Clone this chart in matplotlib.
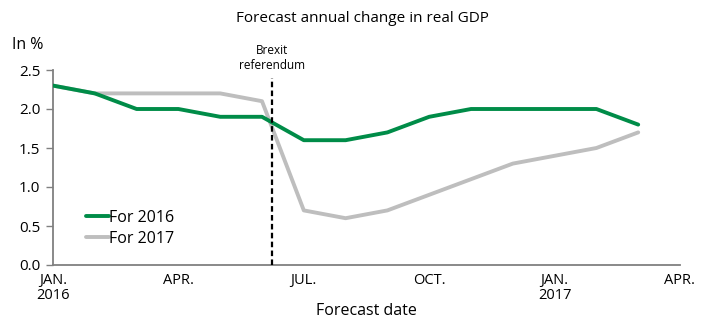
import numpy as np
import matplotlib.pyplot as plt

plt.rcParams['font.family'] = ['Open Sans', 'DejaVu Sans']

# monthly forecasts, Jan 2016 .. Mar 2017
months = np.arange(15)
gdp_2016 = [2.3, 2.2, 2.0, 2.0, 1.9, 1.9, 1.6, 1.6, 1.7, 1.9, 2.0, 2.0, 2.0, 2.0, 1.8]
gdp_2017 = [2.3, 2.2, 2.2, 2.2, 2.2, 2.1, 0.7, 0.6, 0.7, 0.9, 1.1, 1.3, 1.4, 1.5, 1.7]
tick_pos = [0, 3, 6, 9, 12, 15]
tick_labels = ['JAN.\n2016', 'APR.', 'JUL.', 'OCT.', 'JAN.\n2017', 'APR.']
brexit = 5.25  # referendum, 23 June 2016

fig = plt.figure(figsize=(7.11, 3.19), dpi=100)
ax = fig.add_axes([53 / 711, 1 - 265 / 319, (680 - 53) / 711, (265 - 70) / 319])

ax.plot(months, gdp_2016, color='#008C48', lw=2.8, label='For 2016', solid_capstyle='round', zorder=3)
ax.plot(months, gdp_2017, color='#BEBEBE', lw=2.8, label='For 2017', solid_capstyle='round', zorder=2)
ax.axvline(brexit, ymax=(2.5 - 0.1) / 2.5, color='black', ls=(0, (2.5, 1.5)), lw=1.6, zorder=4)
ax.text(brexit, 2.47, 'Brexit\nreferendum', ha='center', va='bottom', fontsize=8.5,
        linespacing=1.25)

ax.set_xlim(0, 15)
ax.set_ylim(0, 2.5)
ax.set_yticks(np.arange(0, 2.51, 0.5))
ax.set_yticklabels(['%.1f' % v for v in np.arange(0, 2.51, 0.5)], fontsize=11)
ax.set_xticks(tick_pos)
ax.set_xticklabels(tick_labels, fontsize=10.5, linespacing=1.0)
ax.tick_params(axis='x', length=0, pad=6)
ax.tick_params(axis='y', length=5, width=1, color='#808080', pad=4)

for s in ['top', 'right']:
    ax.spines[s].set_visible(False)
for s in ['left', 'bottom']:
    ax.spines[s].set_color('#808080')
    ax.spines[s].set_linewidth(1.3)

ax.legend(loc='lower left', bbox_to_anchor=(0.03, 0.02), frameon=False, fontsize=11.5,
          handlelength=1.4, handletextpad=0.0, labelspacing=0.3)

fig.text(362 / 711, 1 - 18 / 319, 'Forecast annual change in real GDP', ha='center', va='center', fontsize=11)
fig.text(12 / 711, 1 - 45 / 319, 'In %', ha='left', va='center', fontsize=11.5)
fig.text(366 / 711, 1 - 311 / 319, 'Forecast date', ha='center', va='center', fontsize=11.5)

fig.savefig('out.png', dpi=100)
